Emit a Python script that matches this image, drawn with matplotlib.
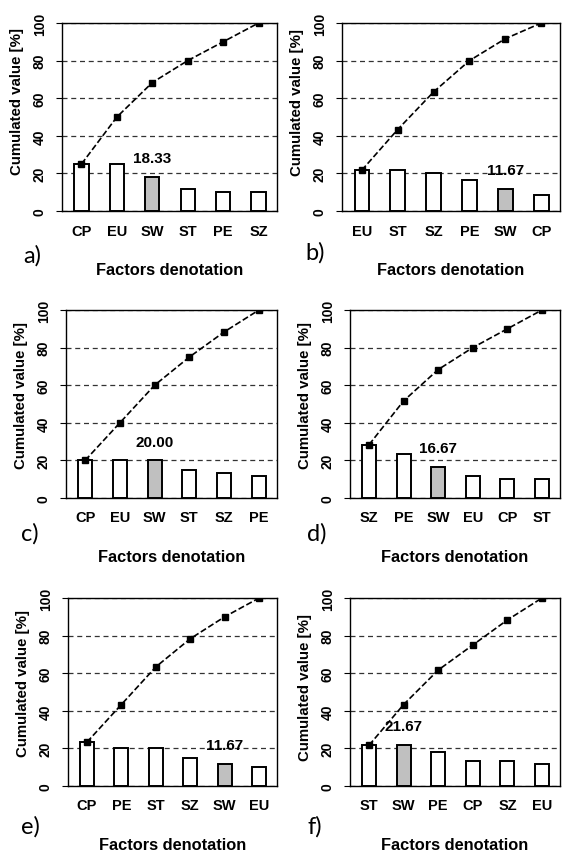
import matplotlib
matplotlib.use("Agg")
import matplotlib.pyplot as plt

# Factor order and share [%] for each panel
labels_a = ["CP", "EU", "SW", "ST", "PE", "SZ"]
values_a = [25.00, 25.00, 18.33, 11.67, 10.00, 10.00]
labels_b = ["EU", "ST", "SZ", "PE", "SW", "CP"]
values_b = [21.67, 21.67, 20.00, 16.67, 11.67, 8.33]
labels_c = ["CP", "EU", "SW", "ST", "SZ", "PE"]
values_c = [20.00, 20.00, 20.00, 15.00, 13.33, 11.67]
labels_d = ["SZ", "PE", "SW", "EU", "CP", "ST"]
values_d = [28.33, 23.33, 16.67, 11.67, 10.00, 10.00]
labels_e = ["CP", "PE", "ST", "SZ", "SW", "EU"]
values_e = [23.33, 20.00, 20.00, 15.00, 11.67, 10.00]
labels_f = ["ST", "SW", "PE", "CP", "SZ", "EU"]
values_f = [21.67, 21.67, 18.33, 13.33, 13.33, 11.67]

# Cumulated values
cum_a = [25.00, 50.00, 68.33, 80.00, 90.00, 100.0]
cum_b = [21.67, 43.33, 63.33, 80.00, 91.67, 100.0]
cum_c = [20.00, 40.00, 60.00, 75.00, 88.33, 100.0]
cum_d = [28.33, 51.67, 68.33, 80.00, 90.00, 100.0]
cum_e = [23.33, 43.33, 63.33, 78.33, 90.00, 100.0]
cum_f = [21.67, 43.33, 61.67, 75.00, 88.33, 100.0]

Letters = ["a)", "b)", "c)", "d)", "e)", "f)"]
Panels = [(labels_a, values_a, cum_a), (labels_b, values_b, cum_b),
          (labels_c, values_c, cum_c), (labels_d, values_d, cum_d),
          (labels_e, values_e, cum_e), (labels_f, values_f, cum_f)]

W, H = 565, 853
# axes boxes in pixels: left, top, right, bottom
Boxes = [(62, 24, 277, 212), (342, 24, 560, 212),
         (66, 311, 277, 499), (350, 311, 560, 499),
         (68, 599, 277, 787), (350, 599, 560, 787)]
LetterPos = [(32, 256), (315, 253), (30, 534), (317, 534), (30, 827), (315, 827)]
# y-axis title sits a bit above the axes centre
YLabelPos = [0.59, 0.58, 0.55, 0.55, 0.55, 0.53]

plt.rcParams['font.family'] = ['Liberation Sans', 'DejaVu Sans']

fig = plt.figure(figsize=(W / 100, H / 100), dpi=100)

for i, (labels, values, cum) in enumerate(Panels):
    l, t, r, b = Boxes[i]
    ax = fig.add_axes([l / W, 1 - b / H, (r - l) / W, (b - t) / H])
    x = list(range(len(labels)))
    colors = ["#c0c0c0" if lab == "SW" else "white" for lab in labels]
    ax.bar(x, values, width=0.4, color=colors, edgecolor="black", linewidth=1.4, zorder=3)
    ax.plot(x, cum, "--", color="black", linewidth=1.2, marker="s", markersize=4.5, zorder=4)
    sw = labels.index("SW")
    ax.text(sw, values[sw] + 10, "%.2f" % values[sw], ha="center", va="center",
            fontsize=11, fontweight="bold", zorder=5)
    ax.set_xlim(-0.55, 5.52)
    ax.set_ylim(0, 100)
    ax.set_yticks([0, 20, 40, 60, 80, 100])
    ax.yaxis.grid(True, linestyle="--", color="#333333", linewidth=0.9, dashes=(4, 3), zorder=0)
    ax.set_xticks(x)
    ax.set_xticklabels(labels, fontsize=10.5, fontweight="bold")
    for lab in ax.get_yticklabels():
        lab.set_rotation(90)
        lab.set_va("center")
        lab.set_fontweight("bold")
        lab.set_fontsize(10)
    ax.tick_params(axis="x", length=0, pad=9)
    ax.tick_params(axis="y", length=4, pad=7)
    ax.set_ylabel("Cumulated value [%]", fontsize=10.8, fontweight="bold", labelpad=6)
    ax.yaxis.label.set_y(YLabelPos[i])
    ax.set_xlabel("Factors denotation", fontsize=11.8, fontweight="bold", labelpad=17.5)
    for sp in ax.spines.values():
        sp.set_linewidth(1.0)
    lx, ly = LetterPos[i]
    fig.text(lx / W, 1 - ly / H, Letters[i], fontsize=17, family="Lato",
             ha="center", va="center")

fig.savefig("out.png", dpi=100)
